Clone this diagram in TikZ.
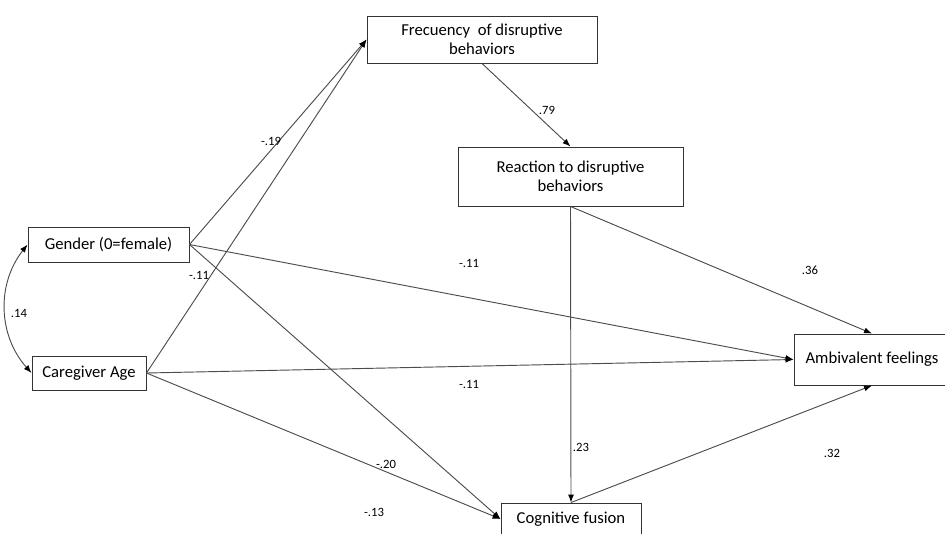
\documentclass[tikz,border=0pt]{standalone}
\usepackage{fontspec}
\setmainfont{Carlito}
\usetikzlibrary{arrows.meta,positioning}

\begin{document}
\begin{tikzpicture}[x=0.75pt, y=-0.75pt, >={Latex[length=6pt,width=4.5pt,color=black]},
  box/.style={draw=black!80, line width=0.7pt, align=center, inner sep=2pt,
              font=\fontsize{12.5}{14.5}\selectfont},
  w/.style={font=\fontsize{9.5}{11}\selectfont, inner sep=1pt},
  arr/.style={->, draw=black!70, line width=0.7pt}]
\useasboundingbox (0,0) rectangle (945,533);
\node[box, minimum width=172.5pt, minimum height=35.25pt] (f) at (482,39.5) {Frecuency~ of disruptive\\behaviors};
\node[box, minimum width=168.75pt, minimum height=44.25pt] (r) at (570.5,176.5) {Reaction to disruptive\\behaviors};
\node[box, minimum width=120.75pt, minimum height=26.25pt] (g) at (108.5,244.5) {Gender (0=female)};
\node[box, minimum width=85.5pt, minimum height=25.5pt] (c) at (89,373) {Caregiver Age};
\node[box, minimum width=117pt, minimum height=38.25pt] (a) at (872,359.5) {Ambivalent feelings};
\node[box, minimum width=105pt, minimum height=24pt] (cf) at (571,519) {Cognitive fusion};
\draw[arr] (g.east) -- (f.west);
\draw[arr] (c.east) -- (f.west);
\draw[arr] (f.south) -- (r.north);
\draw[arr] (g.east) -- (a.west);
\draw[arr] (c.east) -- (a.west);
\draw[arr] (g.east) -- (cf.west);
\draw[arr] (c.east) -- (cf.west);
\draw[arr] (r.south) -- (cf.north);
\draw[arr] (r.south) -- (a.north);
\draw[arr] (cf.north) -- (a.south);
\draw[arr, <->] (g.west) to[bend right=40] (c.west);
% path weights
\node[w] (wgf) at (271,141) {-.19};
\node[w] (wcf) at (199,275) {-.11};
\node[w] (wfr) at (547,110) {.79};
\node[w] (wga) at (469,263) {-.11};
\node[w] (wca) at (469,384) {-.11};
\node[w] (wgc) at (386,464) {-.20};
\node[w] (wcc) at (374,512) {-.13};
\node[w] (wra) at (810,270) {.36};
\node[w] (wrc) at (581,447) {.23};
\node[w] (wca2) at (832,453) {.32};
\node[w] (wgca) at (19,313) {.14};
\end{tikzpicture}
\end{document}
